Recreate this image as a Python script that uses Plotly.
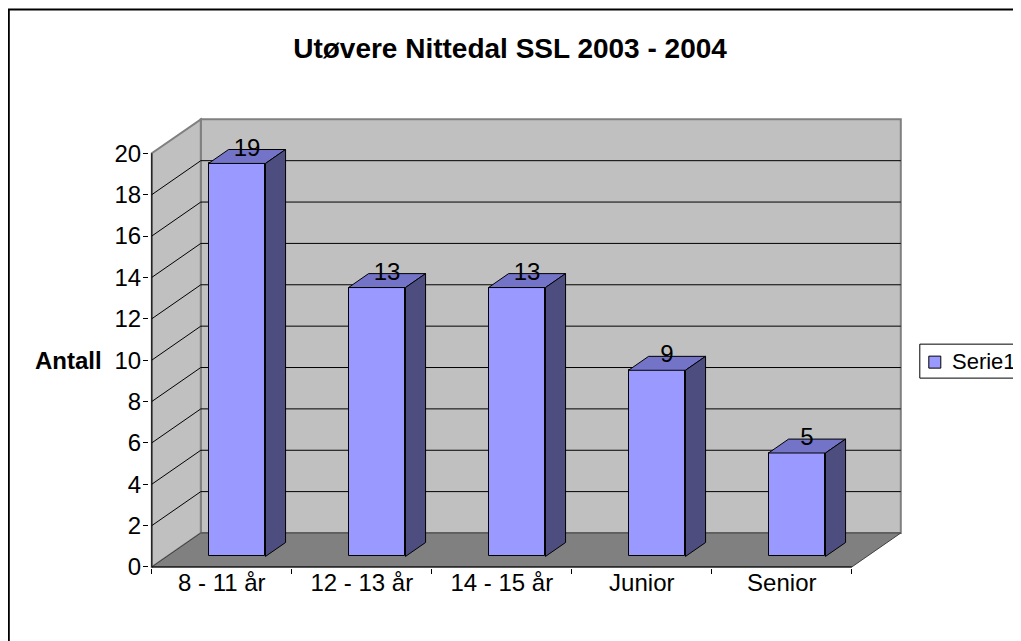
import plotly.graph_objects as go

# ---------------- data ----------------
categories = ["8 - 11 år", "12 - 13 år", "14 - 15 år", "Junior", "Senior"]
values = [19, 13, 13, 9, 5]
y_ticks = [0, 2, 4, 6, 8, 10, 12, 14, 16, 18, 20]
series_name = "Serie1"
title_text = "Utøvere Nittedal SSL 2003 - 2004"
y_title = "Antall"

# ---------------- geometry / style ----------------
OFF = 8                          # default page (body) margin
W, H = 1021 - OFF, 641 - OFF
PXX, PXY = 140.0, 20.7           # pixels per data unit
X0_PX, Y0_PX = 152.0 - OFF, 567.0 - OFF   # front-axis origin in figure pixels
XMIN, XMAX = -0.02, 5.38
YMIN, YMAX = -0.05, 21.9
ML = X0_PX + XMIN * PXX
MR = W - (X0_PX + XMAX * PXX)
MB = H - (Y0_PX - YMIN * PXY)
MT = H - MB - (YMAX - YMIN) * PXY
PW = W - ML - MR
PH = H - MT - MB

DX, DY = 0.35, 1.643             # depth of the 3-D box in data units
FF, BF = 0.31, 0.72              # bar front/back depth fractions
BAR_W = 0.407
YTOP = y_ticks[-1]
NCAT = len(categories)

FONT = "Liberation Sans, Arial, sans-serif"
FS = 24
FRONT_COL, TOP_COL, SIDE_COL = "#9999FF", "#7373C8", "#4D4D80"
WALL, FLOOR, WALL_EDGE = "#C0C0C0", "#808080", "#808080"


def pxx(p):   # reference-image x pixel -> paper
    return (p - OFF - ML) / PW


def pxy(p):   # reference-image y pixel -> paper
    return (H - MB - (p - OFF)) / PH


fdx, fdy = FF * DX, FF * DY
ddx, ddy = (BF - FF) * DX, (BF - FF) * DY

shapes = []
# back wall
shapes.append(dict(type="rect", xref="x", yref="y", x0=DX, x1=NCAT + DX, y0=DY, y1=YTOP + DY,
                   fillcolor=WALL, line=dict(color=WALL_EDGE, width=2), layer="below"))
# left wall
shapes.append(dict(type="path", xref="x", yref="y",
                   path=f"M0,0 L0,{YTOP} L{DX},{YTOP+DY} L{DX},{DY} Z",
                   fillcolor=WALL, line=dict(color=WALL_EDGE, width=2), layer="below"))
# floor
shapes.append(dict(type="path", xref="x", yref="y",
                   path=f"M0,0 L{NCAT},0 L{NCAT+DX},{DY} L{DX},{DY} Z",
                   fillcolor=FLOOR, line=dict(color="#404040", width=1), layer="below"))
# gridlines (back wall + left wall)
for v in y_ticks[1:-1]:
    shapes.append(dict(type="line", xref="x", yref="y", x0=DX, x1=NCAT + DX, y0=v + DY, y1=v + DY,
                       line=dict(color="#000000", width=1), layer="below"))
    shapes.append(dict(type="line", xref="x", yref="y", x0=0, x1=DX, y0=v, y1=v + DY,
                       line=dict(color="#000000", width=1), layer="below"))
# front axis lines
shapes.append(dict(type="line", xref="x", yref="y", x0=0, x1=0, y0=0, y1=YTOP,
                   line=dict(color="#000000", width=1)))
shapes.append(dict(type="line", xref="x", yref="y", x0=0, x1=NCAT, y0=0, y1=0,
                   line=dict(color="#000000", width=1)))

# outer chart border
shapes.append(dict(type="rect", xref="paper", yref="paper", x0=pxx(9), x1=pxx(1040),
                   y0=pxy(9), y1=pxy(660), line=dict(color="#000000", width=2)))
# legend box + key
shapes.append(dict(type="rect", xref="paper", yref="paper", x0=pxx(920), x1=pxx(1040),
                   y0=pxy(344), y1=pxy(378), fillcolor="white", line=dict(color="#000000", width=1)))
shapes.append(dict(type="rect", xref="paper", yref="paper", x0=pxx(929), x1=pxx(941),
                   y0=pxy(356), y1=pxy(368), fillcolor=FRONT_COL, line=dict(color="#000000", width=1)))

fig = go.Figure()

centers = [i + 0.5 + fdx for i in range(NCAT)]
fig.add_trace(go.Bar(x=centers, y=values, base=fdy, width=BAR_W, name=series_name,
                     marker=dict(color=FRONT_COL, line=dict(color="#000000", width=1)),
                     showlegend=False, hoverinfo="skip"))

# top and side faces
for c, v in zip(centers, values):
    xl, xr, yt = c - BAR_W / 2, c + BAR_W / 2, v + fdy
    fig.add_trace(go.Scatter(x=[xl, xr, xr + ddx, xl + ddx, xl], y=[yt, yt, yt + ddy, yt + ddy, yt],
                             mode="lines", fill="toself", fillcolor=TOP_COL,
                             line=dict(color="#000000", width=1), showlegend=False, hoverinfo="skip"))
    fig.add_trace(go.Scatter(x=[xr, xr, xr + ddx, xr + ddx, xr], y=[fdy, yt, yt + ddy, fdy + ddy, fdy],
                             mode="lines", fill="toself", fillcolor=SIDE_COL,
                             line=dict(color="#000000", width=1), showlegend=False, hoverinfo="skip"))

# data labels
fig.add_trace(go.Scatter(x=[c + ddx / 2 for c in centers], y=[v + fdy + ddy for v in values],
                         xaxis="x2", mode="text", text=[str(v) for v in values],
                         textposition="middle center", textfont=dict(family=FONT, size=FS, color="#000000"),
                         showlegend=False, hoverinfo="skip", cliponaxis=False))

fig.update_layout(
    width=W, height=H, autosize=False,
    margin=dict(l=ML, r=MR, t=MT, b=MB, pad=0),
    paper_bgcolor="white", plot_bgcolor="white",
    title=dict(text=title_text, x=(510 - OFF) / W, xref="container", xanchor="center",
               y=1 - (48 - OFF) / H, yref="container", yanchor="middle",
               font=dict(family=FONT, size=28, color="#000000", weight="bold")),
    xaxis=dict(range=[XMIN, XMAX], tickvals=list(range(NCAT + 1)), ticks="outside", ticklen=5,
               tickcolor="#000000", showticklabels=False, showgrid=False, zeroline=False, showline=False),
    xaxis2=dict(range=[XMIN, XMAX], overlaying="x", anchor="y", side="bottom",
                tickvals=[i + 0.5 for i in range(NCAT)], ticktext=categories,
                ticks="", ticklabelstandoff=-2,
                tickfont=dict(family=FONT, size=FS, color="#000000"),
                showgrid=False, zeroline=False, showline=False),
    yaxis=dict(range=[YMIN, YMAX], tickvals=y_ticks, ticks="outside", ticklen=5, tickcolor="#000000",
               ticklabelstandoff=-3,
               tickfont=dict(family=FONT, size=FS, color="#000000"),
               showgrid=False, zeroline=False, showline=False),
    shapes=shapes,
    annotations=[
        dict(text=y_title, xref="paper", yref="y", x=pxx(104), y=10, xanchor="right", yanchor="middle",
             showarrow=False, font=dict(family=FONT, size=FS, color="#000000", weight="bold")),
        dict(text=series_name, xref="paper", yref="paper", x=pxx(950), y=pxy(361), xanchor="left",
             yanchor="middle", showarrow=False, font=dict(family=FONT, size=22, color="#000000")),
    ],
    bargap=0,
)

fig.write_html("out.html")
